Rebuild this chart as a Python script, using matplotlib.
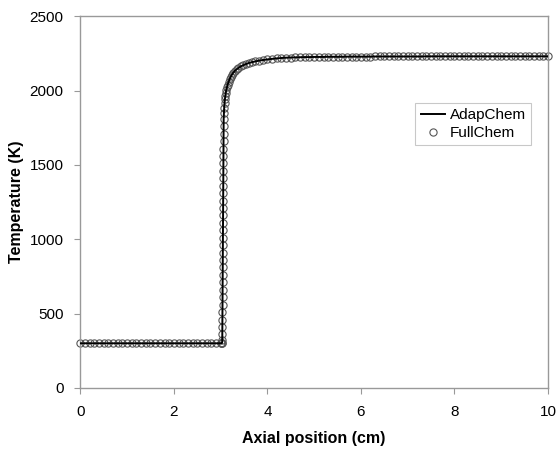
import matplotlib.pyplot as plt

plt.rcParams['font.family'] = ['Liberation Sans', 'DejaVu Sans']

# preheat zone (cm, K)
x_pre = [0.0, 0.1, 0.2, 0.3, 0.4, 0.5, 0.6, 0.7, 0.8, 0.9,
         1.0, 1.1, 1.2, 1.3, 1.4, 1.5, 1.6, 1.7, 1.8, 1.9,
         2.0, 2.1, 2.2, 2.3, 2.4, 2.5, 2.6, 2.7, 2.8, 2.9,
         3.0, 3.01, 3.02, 3.03]
T_pre = [300, 300, 300, 300, 300, 300, 300, 300, 300, 300,
         300, 300, 300, 300, 300, 300, 300, 300, 300, 300,
         300, 300, 300, 300, 300, 300, 300, 300, 300, 300,
         300, 300, 300, 302]

# flame front (refined grid)
x_flame = [3.035, 3.036, 3.037, 3.038, 3.039, 3.040, 3.041, 3.042, 3.043, 3.044,
           3.045, 3.046, 3.047, 3.048, 3.049, 3.050, 3.051, 3.052, 3.053, 3.054,
           3.055, 3.056, 3.057, 3.058, 3.059, 3.060, 3.061, 3.062, 3.063, 3.064,
           3.065]
T_flame = [320, 360, 410, 460, 510, 560, 610, 660, 710, 760,
           810, 860, 910, 960, 1010, 1060, 1110, 1160, 1210, 1260,
           1310, 1360, 1410, 1460, 1510, 1560, 1610, 1660, 1710, 1760,
           1810]

# knee
x_knee = [3.070, 3.076, 3.083, 3.091, 3.100, 3.11, 3.12, 3.135, 3.15, 3.17,
          3.19, 3.215, 3.24, 3.27, 3.30, 3.34, 3.38, 3.43, 3.48, 3.54,
          3.60, 3.67, 3.74, 3.82, 3.90, 4.0]
T_knee = [1850, 1885, 1915, 1942, 1965, 1985, 2003, 2022, 2040, 2058,
          2075, 2092, 2106, 2120, 2131, 2142, 2152, 2162, 2170, 2178,
          2185, 2191, 2196, 2201, 2205, 2209]

# post-flame
x_post = [4.1, 4.2, 4.3, 4.4, 4.5, 4.6, 4.7, 4.8, 4.9, 5.0,
          5.1, 5.2, 5.3, 5.4, 5.5, 5.6, 5.7, 5.8, 5.9, 6.0,
          6.1, 6.2, 6.3, 6.4, 6.5, 6.6, 6.7, 6.8, 6.9, 7.0,
          7.1, 7.2, 7.3, 7.4, 7.5, 7.6, 7.7, 7.8, 7.9, 8.0,
          8.1, 8.2, 8.3, 8.4, 8.5, 8.6, 8.7, 8.8, 8.9, 9.0,
          9.1, 9.2, 9.3, 9.4, 9.5, 9.6, 9.7, 9.8, 9.9, 10.0]
T_post = [2213, 2216, 2219, 2221, 2222, 2223, 2224, 2225, 2225, 2226,
          2226, 2226, 2227, 2227, 2227, 2227, 2228, 2228, 2228, 2228,
          2228, 2228, 2229, 2229, 2229, 2229, 2229, 2229, 2229, 2229,
          2229, 2229, 2229, 2230, 2230, 2230, 2230, 2230, 2230, 2230,
          2230, 2230, 2230, 2230, 2230, 2230, 2230, 2230, 2230, 2230,
          2230, 2230, 2230, 2230, 2230, 2230, 2230, 2230, 2230, 2230]

x_full = x_pre + x_flame + x_knee + x_post
T_full = T_pre + T_flame + T_knee + T_post
# reduced model follows the full one
x_adap = x_full
T_adap = T_full

fig = plt.figure(figsize=(5.58, 4.5), dpi=100)
ax = fig.add_axes([0.144, 0.138, 0.838, 0.826])

ax.plot(x_full, T_full, 'o', ms=5.2, mfc='none', mec='#555555', mew=0.8,
        clip_on=False, label='FullChem', zorder=2)
ax.plot(x_adap, T_adap, '-', color='black', lw=1.4, label='AdapChem', zorder=3)

ax.set_xlim(0, 10)
ax.set_ylim(0, 2500)
ax.set_xticks([0, 2, 4, 6, 8, 10])
ax.set_yticks([0, 500, 1000, 1500, 2000, 2500])
ax.tick_params(direction='out', length=4, color='#999999', labelsize=11, pad=8)
for s in ax.spines.values():
    s.set_color('#999999')
    s.set_linewidth(1.0)

ax.set_xlabel('Axial position (cm)', fontsize=11.5, fontweight='bold', labelpad=9)
ax.set_ylabel('Temperature (K)', fontsize=11.5, fontweight='bold', labelpad=4)

handles, labels = ax.get_legend_handles_labels()
leg = ax.legend(handles[::-1], labels[::-1], loc='upper left',
                bbox_to_anchor=(0.716, 0.767), borderaxespad=0, fontsize=11,
                fancybox=False, frameon=True, handlelength=1.6, handletextpad=0.3,
                borderpad=0.35, labelspacing=0.25)
leg.get_frame().set_edgecolor('#bbbbbb')
leg.get_frame().set_linewidth(0.8)

fig.savefig('out.png', dpi=100)
